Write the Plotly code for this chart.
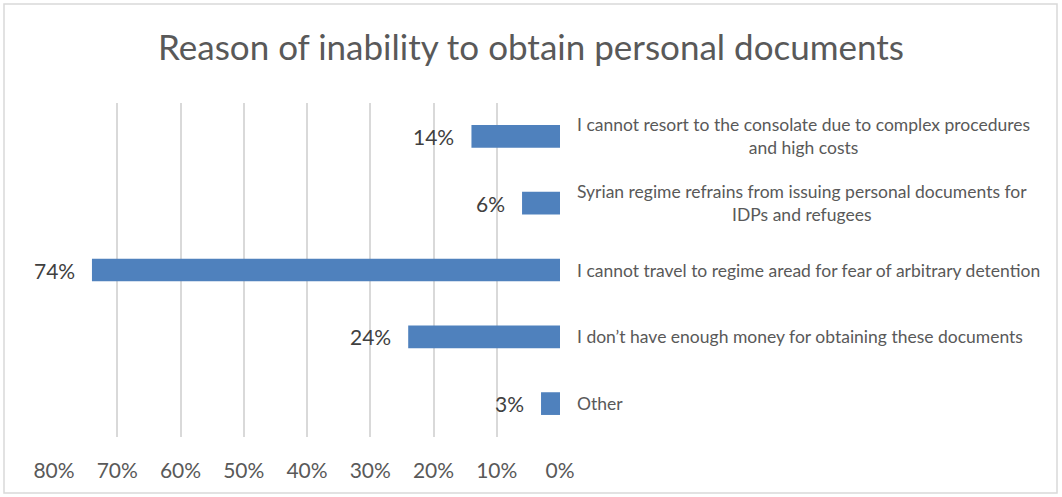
import plotly.graph_objects as go

# Survey responses: reasons respondents could not obtain personal documents
categories = [
    "I cannot resort to the consolate due to complex procedures<br>and high costs",
    "Syrian regime refrains from issuing personal documents for<br>IDPs and refugees",
    "I cannot travel to regime aread for fear of arbitrary detention",
    "I don’t have enough money for obtaining these documents",
    "Other",
]
shares = [0.14, 0.06, 0.74, 0.24, 0.03]
tick_values = [0.8, 0.7, 0.6, 0.5, 0.4, 0.3, 0.2, 0.1, 0.0]
tick_labels = ["80%", "70%", "60%", "50%", "40%", "30%", "20%", "10%", "0%"]

FONT = "Lato"
W, H = 1062, 497
L, R, T, B = 54, 502, 103, 60
pw, ph = W - L - R, H - T - B

ypos = list(range(len(categories)))

fig = go.Figure()
fig.add_trace(go.Bar(
    x=shares,
    y=ypos,
    orientation="h",
    marker=dict(color="#4F81BD", line=dict(width=0)),
    width=0.34,
    hoverinfo="skip",
))

# value labels just left of each bar end
for yi, v in zip(ypos, shares):
    fig.add_annotation(
        x=v, y=yi, xref="x", yref="y",
        text=f"{round(v * 100)}%",
        showarrow=False, xanchor="right", yanchor="middle",
        xshift=-15,
        font=dict(family=FONT, size=21, color="#404040"),
    )

# category captions to the right of the 0% line
for yi, c in zip(ypos, categories):
    fig.add_annotation(
        x=1, y=yi, xref="paper", yref="y",
        text=c, showarrow=False,
        xanchor="left", yanchor="middle", align="center",
        xshift=15,
        font=dict(family=FONT, size=17.5, color="#595959"),
    )

# outer frame of the chart
fig.add_shape(
    type="rect", xref="paper", yref="paper",
    x0=(4 - L) / pw, x1=(1057 - L) / pw,
    y0=(T + ph - 493) / ph, y1=(T + ph - 4) / ph,
    line=dict(color="#D9D9D9", width=1.5),
    fillcolor="rgba(0,0,0,0)", layer="below",
)

fig.update_layout(
    width=W, height=H,
    margin=dict(l=L, r=R, t=T, b=B),
    paper_bgcolor="white", plot_bgcolor="white",
    showlegend=False,
    title=dict(
        text="Reason of inability to obtain personal documents",
        x=0.5, xref="container", xanchor="center",
        y=1 - 48 / H, yanchor="middle",
        font=dict(family=FONT, size=35, color="#595959"),
    ),
    xaxis=dict(
        range=[0.8, 0.0],
        tickvals=tick_values, ticktext=tick_labels,
        showgrid=True, gridcolor="#D9D9D9", gridwidth=1.5,
        zeroline=False, showline=False,
        ticks="outside", ticklen=15, tickcolor="rgba(0,0,0,0)",
        tickfont=dict(family=FONT, size=21, color="#595959"),
        fixedrange=True,
    ),
    yaxis=dict(
        range=[len(categories) - 0.5, -0.5],
        showticklabels=False, showgrid=False, zeroline=False, showline=False,
        fixedrange=True,
    ),
)

fig.write_html("out.html")
